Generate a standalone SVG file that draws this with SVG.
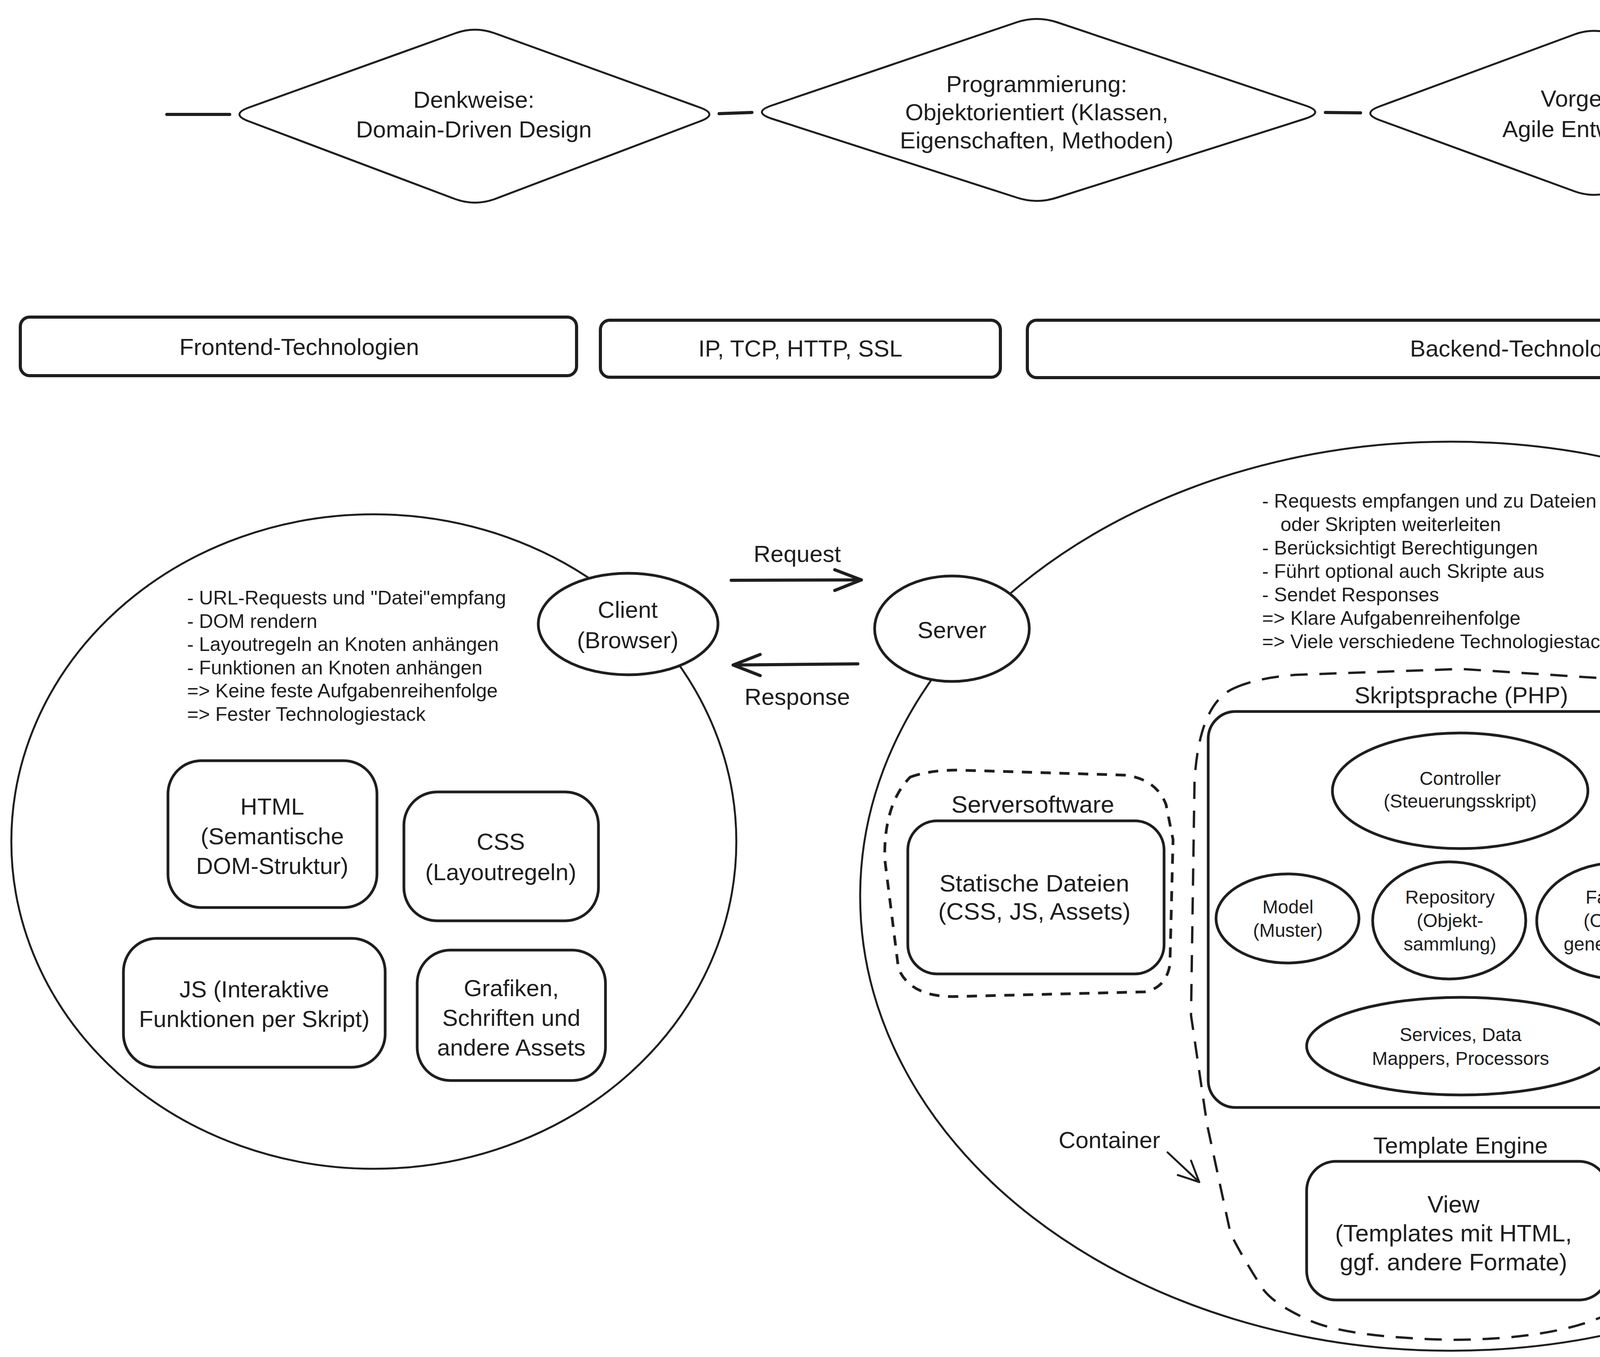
<svg xmlns="http://www.w3.org/2000/svg" width="5267" height="3475" viewBox="0 0 5267 3475">
<style>
.bg{fill:#ffffff}
.ln{fill:none;stroke:#1e1e1e;stroke-width:5;stroke-linecap:round;stroke-linejoin:round}
.thick{fill:none;stroke:#1e1e1e;stroke-width:8;stroke-linecap:round;stroke-linejoin:round}
.node{fill:#ffffff;stroke:#1e1e1e;stroke-width:7;stroke-linejoin:round}
.dia{fill:#ffffff;stroke:#1e1e1e;stroke-width:5;stroke-linejoin:round}
.big{fill:none;stroke:#1e1e1e;stroke-width:5}
.dash{fill:none;stroke:#1e1e1e;stroke-width:7;stroke-dasharray:26 22;stroke-linecap:butt}
.dash2{fill:none;stroke:#1e1e1e;stroke-width:6;stroke-dasharray:44 30;stroke-linecap:butt}
.t{font-family:"Liberation Sans",Arial,sans-serif;fill:#1e1e1e;text-anchor:middle}
.l{font-family:"Liberation Sans",Arial,sans-serif;fill:#1e1e1e;text-anchor:start;font-size:50px}
.f60{font-size:60px}
.f62{font-size:62px}
.f48{font-size:48px}
</style>
<rect class="bg" x="0" y="0" width="5267" height="3475"/>
<g id="connectors">
  <path class="thick" d="M427,293 L588,293"/>
  <path class="thick" d="M1841,291 L1925,288"/>
  <path class="thick" d="M3393,288 L3483,289"/>
  <path class="thick" d="M4686,289 L4844,288"/>
  <path class="thick" d="M1872,1486 L2205,1485"/>
  <path class="thick" d="M2137,1459 L2205,1485 L2137,1512"/>
  <path class="thick" d="M2196,1700 L1877,1703"/>
  <path class="thick" d="M1946,1676 L1877,1703 L1946,1730"/>
  <path class="ln" d="M2989,2951 L3070,3027"/>
  <path class="ln" d="M3049,2972 L3070,3027 L3015,3009"/>
</g>
<g id="denkweise">
  <path class="dia" d="M638,275 L1166,85 Q1216,67 1266,85 L1791,275 Q1841,293 1791,311 L1266,510 Q1216,528 1166,510 L638,311 Q588,293 638,275 Z"/>
  <text class="t f60" x="1213" y="276"><tspan x="1213">Denkweise:</tspan><tspan x="1213" dy="76">Domain-Driven Design</tspan></text>
</g>
<g id="programmierung">
  <path class="dia" d="M1976,270 L2603,57 Q2654,40 2706,57 L3341,270 Q3393,287 3341,304 L2706,506 Q2654,523 2603,506 L1976,304 Q1925,287 1976,270 Z"/>
  <text class="t f60" x="2654" y="236"><tspan x="2654">Programmierung:</tspan><tspan x="2654" dy="72">Objektorientiert (Klassen,</tspan><tspan x="2654" dy="72">Eigenschaften, Methoden)</tspan></text>
</g>
<g id="vorgehen">
  <path class="dia" d="M3533,272 L4031,88 Q4081,70 4131,88 L4636,272 Q4686,290 4636,308 L4131,490 Q4081,508 4031,490 L3533,308 Q3483,290 3533,272 Z"/>
  <text class="t f60" x="4081" y="273"><tspan x="4081">Vorgehen:</tspan><tspan x="4081" dy="78">Agile Entwicklung</tspan></text>
</g>
<g id="frontend-bar">
  <rect class="thick" x="52" y="812" width="1424" height="150" rx="24"/>
  <text class="t f60" x="766" y="909">Frontend-Technologien</text>
</g>
<g id="protocol-bar">
  <rect class="thick" x="1537" y="820" width="1024" height="146" rx="24"/>
  <text class="t f60" x="2049" y="913">IP, TCP, HTTP, SSL</text>
</g>
<g id="backend-bar">
  <rect class="thick" x="2630" y="820" width="2568" height="147" rx="24"/>
  <text class="t f60" x="3913" y="913">Backend-Technologien</text>
</g>
<g id="frontend-area">
  <ellipse class="big" cx="957" cy="2155" rx="928" ry="838"/>
  <text class="l" x="479" y="1548"><tspan x="479">- URL-Requests und "Datei"empfang</tspan><tspan x="479" dy="59.5">- DOM rendern</tspan><tspan x="479" dy="59.5">- Layoutregeln an Knoten anhängen</tspan><tspan x="479" dy="59.5">- Funktionen an Knoten anhängen</tspan><tspan x="479" dy="59.5">=&gt; Keine feste Aufgabenreihenfolge</tspan><tspan x="479" dy="59.5">=&gt; Fester Technologiestack</tspan></text>
</g>
<g id="client">
  <ellipse class="node" cx="1608" cy="1598" rx="230" ry="130"/>
  <text class="t f60" x="1607" y="1582"><tspan x="1607">Client</tspan><tspan x="1607" dy="78">(Browser)</tspan></text>
</g>
<g id="html">
  <rect class="node" x="430" y="1948" width="535" height="376" rx="85"/>
  <text class="t f60" x="697" y="2086"><tspan x="697">HTML</tspan><tspan x="697" dy="76">(Semantische</tspan><tspan x="697" dy="76">DOM-Struktur)</tspan></text>
</g>
<g id="css">
  <rect class="node" x="1034" y="2028" width="498" height="330" rx="85"/>
  <text class="t f60" x="1282" y="2176"><tspan x="1282">CSS</tspan><tspan x="1282" dy="78">(Layoutregeln)</tspan></text>
</g>
<g id="js">
  <rect class="node" x="316" y="2403" width="670" height="330" rx="85"/>
  <text class="t f60" x="651" y="2554"><tspan x="651">JS (Interaktive</tspan><tspan x="651" dy="76">Funktionen per Skript)</tspan></text>
</g>
<g id="assets">
  <rect class="node" x="1068" y="2433" width="482" height="334" rx="85"/>
  <text class="t f60" x="1309" y="2551"><tspan x="1309">Grafiken,</tspan><tspan x="1309" dy="76">Schriften und</tspan><tspan x="1309" dy="76">andere Assets</tspan></text>
</g>
<g id="labels">
  <text class="t f60" x="2041" y="1439">Request</text>
  <text class="t f60" x="2041" y="1805">Response</text>
</g>
<g id="backend-area">
  <ellipse class="big" cx="3714" cy="2295" rx="1512" ry="1164"/>
  <text class="l" x="3231" y="1300"><tspan x="3231">- Requests empfangen und zu Dateien</tspan><tspan x="3278" dy="60">oder Skripten weiterleiten</tspan><tspan x="3231" dy="60">- Berücksichtigt Berechtigungen</tspan><tspan x="3231" dy="60">- Führt optional auch Skripte aus</tspan><tspan x="3231" dy="60">- Sendet Responses</tspan><tspan x="3231" dy="60">=&gt; Klare Aufgabenreihenfolge</tspan><tspan x="3231" dy="60">=&gt; Viele verschiedene Technologiestacks möglich</tspan></text>
</g>
<g id="server">
  <ellipse class="node" cx="2437" cy="1610" rx="198" ry="135"/>
  <text class="t f60" x="2437" y="1634">Server</text>
</g>
<g id="serversoftware">
  <path class="dash" d="M2330,1990 Q2380,1972 2450,1972 L2880,1985 Q2960,1995 2985,2060 L3003,2150 L2995,2470 Q2985,2530 2930,2540 L2440,2552 Q2330,2552 2300,2480 L2265,2200 Q2262,2060 2330,1990 Z"/>
  <text class="t f62" x="2644" y="2081">Serversoftware</text>
  <rect class="node" x="2324" y="2102" width="656" height="392" rx="75"/>
  <text class="t f62" x="2648" y="2283"><tspan x="2648">Statische Dateien</tspan><tspan x="2648" dy="72">(CSS, JS, Assets)</tspan></text>
</g>
<g id="skriptsprache">
  <path class="dash2" d="M3160,1762 Q3220,1735 3320,1728 L3740,1713 L4226,1745 Q4370,1775 4400,1850 Q4432,1950 4435,2100 L4443,2600 L4403,2879 L4322,3102 Q4240,3300 4120,3364 Q3980,3430 3716,3431 Q3450,3425 3352,3381 Q3260,3340 3231,3298 Q3175,3210 3150,3158 L3090,2879 L3049,2600 L3058,2000 Q3070,1800 3160,1762 Z"/>
  <text class="t f60" x="3741" y="1801">Skriptsprache (PHP)</text>
  <rect class="node" x="3093" y="1822" width="1288" height="1014" rx="70"/>
</g>
<g id="controller">
  <ellipse class="node" cx="3738" cy="2025" rx="327" ry="148"/>
  <text class="t f48" x="3738" y="2010"><tspan x="3738">Controller</tspan><tspan x="3738" dy="58">(Steuerungsskript)</tspan></text>
</g>
<g id="model">
  <ellipse class="node" cx="3296" cy="2352" rx="183" ry="114"/>
  <text class="t f48" x="3297" y="2339"><tspan x="3297">Model</tspan><tspan x="3297" dy="60">(Muster)</tspan></text>
</g>
<g id="repository">
  <ellipse class="node" cx="3710" cy="2357" rx="196" ry="150"/>
  <text class="t f48" x="3712" y="2314"><tspan x="3712">Repository</tspan><tspan x="3712" dy="60">(Objekt-</tspan><tspan x="3712" dy="60">sammlung)</tspan></text>
</g>
<g id="factory">
  <ellipse class="node" cx="4144" cy="2358" rx="210" ry="149"/>
  <text class="t f48" x="4139" y="2314"><tspan x="4139">Factory</tspan><tspan x="4139" dy="60">(Objekt-</tspan><tspan x="4139" dy="60">generierung)</tspan></text>
</g>
<g id="services">
  <ellipse class="node" cx="3741" cy="2679" rx="396" ry="125"/>
  <text class="t f48" x="3739" y="2666"><tspan x="3739">Services, Data</tspan><tspan x="3739" dy="61">Mappers, Processors</tspan></text>
</g>
<g id="template-engine">
  <text class="t f60" x="3739" y="2954">Template Engine</text>
  <rect class="node" x="3345" y="2974" width="772" height="355" rx="75"/>
  <text class="t f62" x="3721" y="3105"><tspan x="3721">View</tspan><tspan x="3721" dy="74">(Templates mit HTML,</tspan><tspan x="3721" dy="74">ggf. andere Formate)</tspan></text>
</g>
<g id="container-label">
  <text class="t f60" x="2840" y="2940">Container</text>
</g>
<g id="db-software">
  <path class="dash" d="M4542,1997 Q4600,1985 4700,1982 L5046,1981 Q5120,1990 5140,2060 L5155,2147 L5145,2450 Q5125,2560 5050,2590 L4799,2606 L4600,2590 Q4525,2570 4505,2500 L4463,2147 Q4470,2030 4542,1997 Z"/>
  <text class="t f62" x="4789" y="2097">DB-Software</text>
  <rect class="node" x="4503" y="2115" width="603" height="395" rx="75"/>
  <text class="t f62" x="4799" y="2261"><tspan x="4799">Persistenz</tspan><tspan x="4799" dy="73">(DB, alternativ</tspan><tspan x="4799" dy="73">auch API)</tspan></text>
</g>
</svg>
